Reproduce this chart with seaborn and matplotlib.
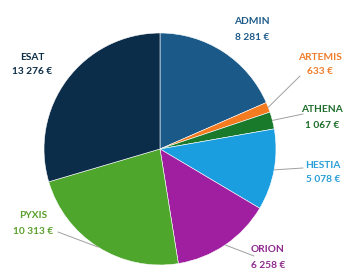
import numpy as np
import matplotlib
matplotlib.use('Agg')
import matplotlib.pyplot as plt
import seaborn as sns

# budget per department
labels = ['ADMIN', 'ARTEMIS', 'ATHENA', 'HESTIA', 'ORION', 'PYXIS', 'ESAT']
values = [8281, 633, 1067, 5078, 6258, 10313, 13276]
value_text = ['8 281 €', '633 €', '1 067 €', '5 078 €', '6 258 €', '10 313 €', '13 276 €']
colors = ['#1b5a88', '#f47b20', '#1a7a2c', '#1a9ee0', '#a01ea0', '#4ea62c', '#0b2d4a']
text_colors = ['#1f5b8a', '#f07d2c', '#1d6e2a', '#2a9fd8', '#8e2a8e', '#5aa02c', '#0b2c45']

sns.set_theme(style='white')
plt.rcParams['font.family'] = ['Lato', 'DejaVu Sans']

W, H = 347, 270
fig = plt.figure(figsize=(W / 100, H / 100), dpi=100)
ax = fig.add_axes([0, 0, 1, 1])

cx, cy, r = 160, H - 149, 116
wedges, _ = ax.pie(values, colors=colors, startangle=90, counterclock=False,
                   center=(cx, cy), radius=r, frame=True,
                   wedgeprops=dict(edgecolor='white', linewidth=0.4))
ax.set_xlim(0, W)
ax.set_ylim(0, H)
ax.axis('off')

# label layout (pixel coords, y down): text centre, leader end or None
layout = {
    'ADMIN': ((252, 22), None),
    'ARTEMIS': ((320, 57), (300, 76)),
    'ATHENA': ((322, 110), (303, 114)),
    'HESTIA': ((323, 165), (303, 168)),
    'ORION': ((268, 250), (254, 256)),
    'PYXIS': ((33, 216), (58, 232)),
    'ESAT': ((32, 57), None),
}

for w, lab, vt, tc in zip(wedges, labels, value_text, text_colors):
    (tx, ty), lead = layout[lab]
    ax.text(tx, H - ty, lab, ha='center', va='center', fontsize=7.3,
            fontweight='bold', color=tc)
    ax.text(tx, H - ty - 15, vt, ha='center', va='center', fontsize=7.3,
            fontweight='bold', color=tc)
    if lead is not None:
        mid = np.deg2rad((w.theta1 + w.theta2) / 2)
        px, py = cx + r * np.cos(mid), cy + r * np.sin(mid)
        ax.plot([px, lead[0]], [py, H - lead[1]], color='#a0a0a0', lw=0.7)

fig.savefig('out.png', dpi=100)
